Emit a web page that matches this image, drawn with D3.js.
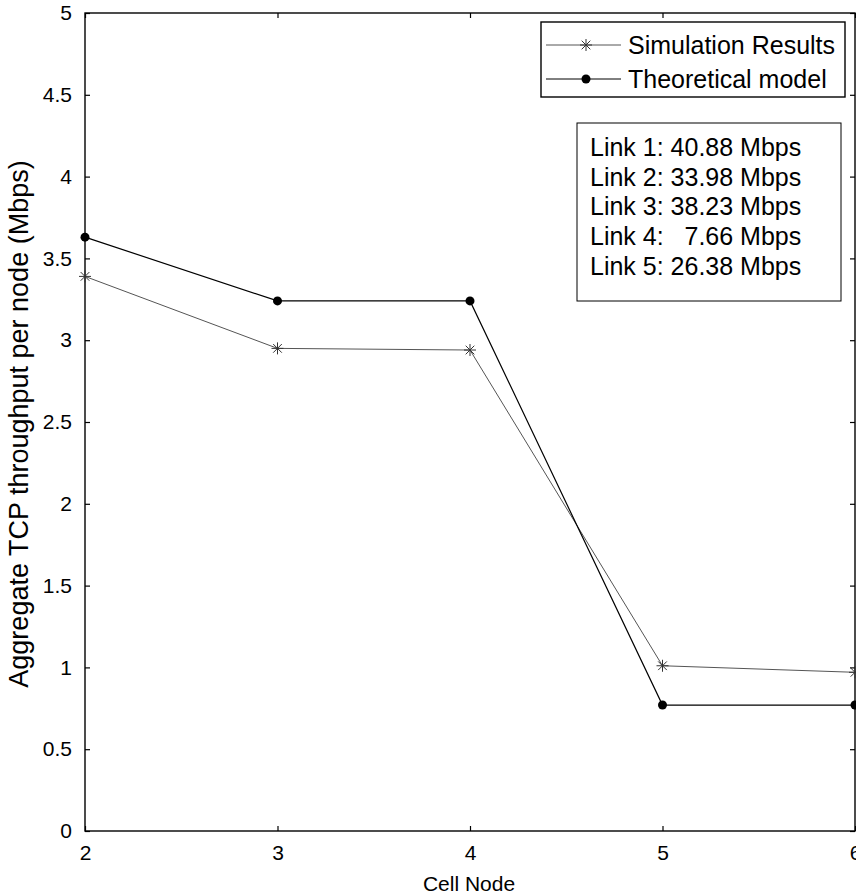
<!DOCTYPE html>
<html>
<head>
<meta charset="utf-8">
<script src="https://cdn.jsdelivr.net/npm/d3@7"></script>
<style>
  body { margin: 0; background: #fff; }
  svg { display: block; font-family: Arial, "Liberation Sans", sans-serif; }
</style>
</head>
<body>
<div id="chart"></div>
<script>
// Data
const cellNodes = [2, 3, 4, 5, 6];
const simulation = [3.39, 2.95, 2.94, 1.01, 0.97];
const theoretical = [3.63, 3.24, 3.24, 0.77, 0.77];
const yTicks = [0, 0.5, 1, 1.5, 2, 2.5, 3, 3.5, 4, 4.5, 5];
const xTicks = [2, 3, 4, 5, 6];
const legendLabels = ["Simulation Results", "Theoretical model"];
const linkNotes = ["Link 1: 40.88 Mbps", "Link 2: 33.98 Mbps", "Link 3: 38.23 Mbps", "Link 4:   7.66 Mbps", "Link 5: 26.38 Mbps"];

const W = 856, H = 895;
const margin = {top: 13, right: 1, bottom: 64, left: 85};
const width = W - margin.left - margin.right;
const height = H - margin.top - margin.bottom;

const svg = d3.select("#chart").append("svg")
    .attr("width", W)
    .attr("height", H);

const g = svg.append("g")
    .attr("transform", `translate(${margin.left},${margin.top})`);

const x = d3.scaleLinear().domain([2, 6]).range([0, width]);
const y = d3.scaleLinear().domain([0, 5]).range([height, 0]);

// Axes, MATLAB style: ticks pointing inward on all four sides
const tickLen = 5;
g.append("g")
    .attr("transform", `translate(0,${height})`)
    .call(d3.axisBottom(x).tickValues(xTicks).tickSize(-tickLen).tickPadding(14).tickFormat(d3.format("d")))
    .call(a => a.select(".domain").remove());
g.append("g")
    .call(d3.axisTop(x).tickValues(xTicks).tickSize(-tickLen).tickFormat(""))
    .call(a => a.select(".domain").remove());
g.append("g")
    .call(d3.axisLeft(y).tickValues(yTicks).tickSize(-tickLen).tickPadding(13).tickFormat(d3.format("")))
    .call(a => a.select(".domain").remove());
g.append("g")
    .attr("transform", `translate(${width},0)`)
    .call(d3.axisRight(y).tickValues(yTicks).tickSize(-tickLen).tickFormat(""))
    .call(a => a.select(".domain").remove());

g.selectAll(".tick text").style("font-size", "21px").attr("fill", "#000");
g.selectAll(".tick line").attr("stroke", "#000").attr("stroke-width", 1.2);

// Frame
g.append("rect")
    .attr("x", 0).attr("y", 0)
    .attr("width", width).attr("height", height)
    .attr("fill", "none")
    .attr("stroke", "#000")
    .attr("stroke-width", 1.4);

// Axis labels
svg.append("text")
    .attr("x", margin.left + width / 2 - 1)
    .attr("y", 891)
    .attr("text-anchor", "middle")
    .style("font-size", "21px")
    .text("Cell Node");

svg.append("text")
    .attr("transform", `translate(28,${margin.top + height / 2 + 2}) rotate(-90)`)
    .attr("text-anchor", "middle")
    .style("font-size", "27px")
    .text("Aggregate TCP throughput per node (Mbps)");

const line = d3.line()
    .x((d, i) => x(cellNodes[i]))
    .y(d => y(d));

// Star marker path (MATLAB '*')
function starPath(r) {
    const d = r * 0.72;
    return `M${-r},0L${r},0M0,${-r}L0,${r}M${-d},${-d}L${d},${d}M${-d},${d}L${d},${-d}`;
}

// Simulation series
g.append("path")
    .datum(simulation)
    .attr("d", line)
    .attr("fill", "none")
    .attr("stroke", "#555")
    .attr("stroke-width", 1);
g.selectAll(".sim-marker")
    .data(simulation)
    .enter()
    .append("path")
        .attr("class", "sim-marker")
        .attr("transform", (d, i) => `translate(${x(cellNodes[i])},${y(d)})`)
        .attr("d", starPath(6))
        .attr("stroke", "#333")
        .attr("stroke-width", 1)
        .attr("fill", "none");

// Theoretical series
g.append("path")
    .datum(theoretical)
    .attr("d", line)
    .attr("fill", "none")
    .attr("stroke", "#000")
    .attr("stroke-width", 1.2);
g.selectAll(".theo-marker")
    .data(theoretical)
    .enter()
    .append("circle")
        .attr("class", "theo-marker")
        .attr("cx", (d, i) => x(cellNodes[i]))
        .attr("cy", d => y(d))
        .attr("r", 4.5)
        .attr("fill", "#000");

// Legend
const legend = svg.append("g").attr("transform", "translate(541,22)");
legend.append("rect")
    .attr("width", 304).attr("height", 75)
    .attr("fill", "#fff")
    .attr("stroke", "#000")
    .attr("stroke-width", 1.4);
legendLabels.forEach((label, i) => {
    const ly = 23 + i * 34;
    legend.append("line")
        .attr("x1", 5).attr("x2", 80)
        .attr("y1", ly).attr("y2", ly)
        .attr("stroke", i === 0 ? "#555" : "#000")
        .attr("stroke-width", 1);
    if (i === 0) {
        legend.append("path")
            .attr("transform", `translate(45,${ly})`)
            .attr("d", starPath(6))
            .attr("stroke", "#333")
            .attr("fill", "none");
    } else {
        legend.append("circle")
            .attr("cx", 45).attr("cy", ly).attr("r", 4.5)
            .attr("fill", "#000");
    }
    legend.append("text")
        .attr("x", 87)
        .attr("y", ly + 9)
        .style("font-size", "25px")
        .text(label);
});

// Link rates note box
const note = svg.append("g").attr("transform", "translate(577,123)");
note.append("rect")
    .attr("width", 264).attr("height", 178)
    .attr("fill", "#fff")
    .attr("stroke", "#000")
    .attr("stroke-width", 1);
note.selectAll("text")
    .data(linkNotes)
    .enter()
    .append("text")
        .attr("x", 13)
        .attr("y", (d, i) => 33 + i * 29.7)
        .style("font-size", "25px")
        .style("white-space", "pre")
        .attr("xml:space", "preserve")
        .text(d => d);
</script>
</body>
</html>
